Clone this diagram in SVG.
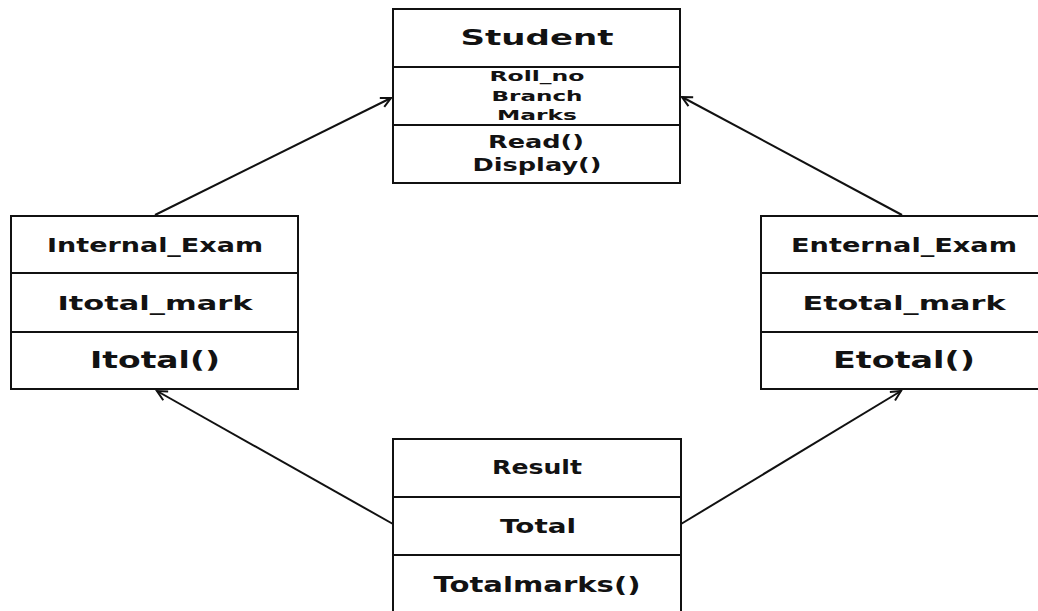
<svg xmlns="http://www.w3.org/2000/svg" width="1038" height="611" viewBox="0 0 1038 611">
  <style>
    .box { fill: #ffffff; stroke: #111111; stroke-width: 2; }
    .div { stroke: #111111; stroke-width: 2; }
    .t { font-family: "DejaVu Sans", Verdana, sans-serif; fill: #121212; text-anchor: middle; }
    .b { font-weight: bold; }
    .edge { stroke: #111111; stroke-width: 2; fill: none; marker-end: url(#open); }
  </style>
  <defs>
    <marker id="open" markerUnits="userSpaceOnUse" markerWidth="14" markerHeight="14" refX="11" refY="6" orient="auto">
      <path d="M1,1 L11,6 L1,11" fill="none" stroke="#111111" stroke-width="2"/>
    </marker>
  </defs>
  <rect width="1038" height="611" fill="#ffffff"/>

  <g id="connectors">
    <line class="edge" x1="155" y1="215" x2="391" y2="98"/>
    <line class="edge" x1="902" y1="215" x2="682" y2="97"/>
    <line class="edge" x1="393" y1="524" x2="157" y2="391"/>
    <line class="edge" x1="681" y1="524" x2="901" y2="391"/>
  </g>

  <g id="student">
    <rect class="box" x="393" y="9" width="287" height="174"/>
    <line class="div" x1="393" y1="67" x2="680" y2="67"/>
    <line class="div" x1="393" y1="125" x2="680" y2="125"/>
    <text class="t b" x="537" y="45" font-size="22" textLength="153" lengthAdjust="spacingAndGlyphs">Student</text>
    <text class="t b" x="537" y="81" font-size="14" textLength="95" lengthAdjust="spacingAndGlyphs">Roll_no</text>
    <text class="t b" x="537" y="100.5" font-size="14" textLength="91" lengthAdjust="spacingAndGlyphs">Branch</text>
    <text class="t b" x="537" y="120" font-size="14" textLength="80" lengthAdjust="spacingAndGlyphs">Marks</text>
    <text class="t b" x="536" y="148" font-size="18" textLength="96" lengthAdjust="spacingAndGlyphs">Read()</text>
    <text class="t b" x="537" y="171" font-size="18" textLength="129" lengthAdjust="spacingAndGlyphs">Display()</text>
  </g>

  <g id="internal_exam">
    <rect class="box" x="11" y="216" width="287" height="173"/>
    <line class="div" x1="11" y1="273" x2="298" y2="273"/>
    <line class="div" x1="11" y1="332" x2="298" y2="332"/>
    <text class="t" x="155" y="252" font-size="19" font-weight="600" textLength="216" lengthAdjust="spacingAndGlyphs">Internal_Exam</text>
    <text class="t" x="155" y="310" font-size="20" font-weight="600" textLength="195" lengthAdjust="spacingAndGlyphs">Itotal_mark</text>
    <text class="t b" x="155" y="368" font-size="23" textLength="130" lengthAdjust="spacingAndGlyphs">Itotal()</text>
  </g>

  <g id="external_exam">
    <rect class="box" x="761" y="216" width="287" height="173"/>
    <line class="div" x1="761" y1="273" x2="1048" y2="273"/>
    <line class="div" x1="761" y1="332" x2="1048" y2="332"/>
    <text class="t" x="904" y="252" font-size="19" font-weight="600" textLength="226" lengthAdjust="spacingAndGlyphs">Enternal_Exam</text>
    <text class="t" x="904" y="310" font-size="20" font-weight="600" textLength="203" lengthAdjust="spacingAndGlyphs">Etotal_mark</text>
    <text class="t b" x="904" y="368" font-size="23" textLength="142" lengthAdjust="spacingAndGlyphs">Etotal()</text>
  </g>

  <g id="result">
    <rect class="box" x="393" y="439" width="288" height="176"/>
    <line class="div" x1="393" y1="497" x2="681" y2="497"/>
    <line class="div" x1="393" y1="555" x2="681" y2="555"/>
    <text class="t" x="537" y="474" font-size="19" font-weight="600" textLength="90" lengthAdjust="spacingAndGlyphs">Result</text>
    <text class="t b" x="538" y="533" font-size="20" textLength="76" lengthAdjust="spacingAndGlyphs">Total</text>
    <text class="t b" x="537" y="592" font-size="22" textLength="207" lengthAdjust="spacingAndGlyphs">Totalmarks()</text>
  </g>
</svg>
